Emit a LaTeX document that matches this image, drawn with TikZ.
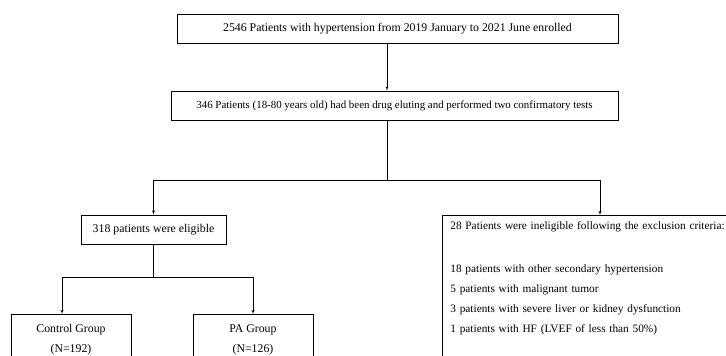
\documentclass[tikz,border=0pt]{standalone}
\usepackage{fontspec}
\setmainfont{Liberation Serif}
\usetikzlibrary{arrows, shapes}

\begin{document}
\begin{tikzpicture}
[> = latex', x=1pt, y=-1pt,
block/.style ={rectangle, draw=black, line width=0.8pt,
inner sep=0pt, minimum height=29pt,
font=\fontsize{11.8}{20}\selectfont},
group/.style ={block, anchor=north, minimum width=120pt,
minimum height=0pt, align=center, inner ysep=10pt},
]
\useasboundingbox (0,0) rectangle (726,356);
\clip (0,0) rectangle (726,356);

% row 1
\node [block, minimum width=441pt] (enr) at (397.5,28.5)
 {2546 Patients with hypertension from 2019 January to 2021 June enrolled};

% row 2
\node [block, minimum width=447pt, font=\fontsize{10.9}{20}\selectfont] (cft) at (394.5,105.5)
 {346 Patients (18-80 years old) had been drug eluting and performed two confirmatory tests};

% row 3
\node [block, minimum width=145pt] (elg) at (153.5,229.5) {318 patients were eligible};
\node [block, anchor=north west, minimum height=0pt, text width=320pt, align=left,
 inner xsep=8pt, inner ysep=6pt, font=\fontsize{11.3}{20}\selectfont] (inel) at (442,215)
 {28 Patients were ineligible following the exclusion criteria:\\[23pt]
 18 patients with other secondary hypertension\\
 5 patients with malignant tumor\\
 3 patients with severe liver or kidney dysfunction\\
 1 patients with HF (LVEF of less than 50\%)\\[40pt]\mbox{}};

% row 4
\node [group] (ctl) at (71,314) {Control Group\\(N=192)\\[30pt]\mbox{}};
\node [group] (pag) at (253,314) {PA Group\\(N=126)\\[30pt]\mbox{}};

\coordinate (split) at (387,180);
\coordinate (exc) at (600,215);
\coordinate (grp) at (153.5,277);

 \draw[->] (enr.south -| split) -- (cft.north -| split);
 \draw (cft.south -| split) -- (split);
 \draw[->] (split) -| (elg.north);
 \draw[->] (split) -| (exc);
 \draw (elg) -- (grp);
 \draw[->] (grp) -| (ctl.north -| 62,0);
 \draw[->] (grp) -| (pag.north);
\end{tikzpicture}
\end{document}
